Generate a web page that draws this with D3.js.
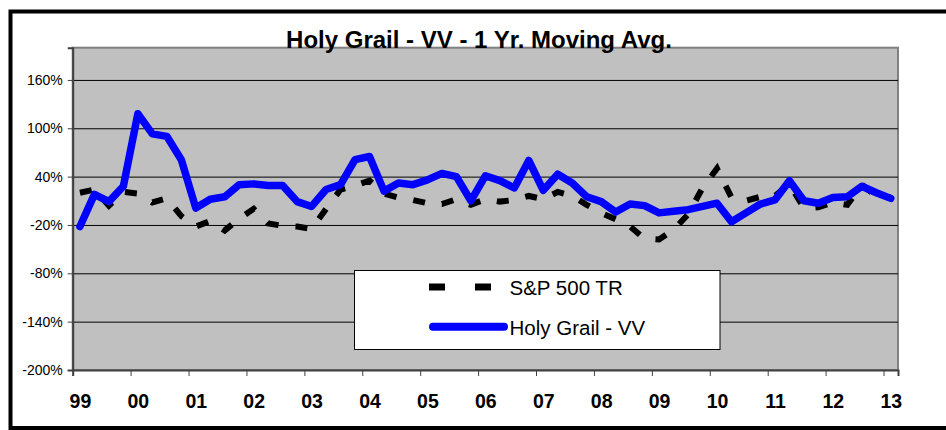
<!DOCTYPE html>
<html lang="en">
	<head>
		<meta charset="utf-8">
		<title>Holy Grail - VV - 1 Yr. Moving Avg.</title>
		<script type="text/javascript" src="https://d3js.org/d3.v7.min.js"></script>
		<style type="text/css">
            body {
                margin: 0;
                background: #fff;
            }
            svg text {
                font-family: "Liberation Sans", Arial, sans-serif;
                fill: #000;
            }
		</style>
	</head>
	<body>
		<script type="text/javascript">

            // quarterly points, 1999 Q1 .. 2013 Q1
            var quarters = ["99Q1","99Q2","99Q3","99Q4","00Q1","00Q2","00Q3","00Q4",
                "01Q1","01Q2","01Q3","01Q4","02Q1","02Q2","02Q3","02Q4",
                "03Q1","03Q2","03Q3","03Q4","04Q1","04Q2","04Q3","04Q4",
                "05Q1","05Q2","05Q3","05Q4","06Q1","06Q2","06Q3","06Q4",
                "07Q1","07Q2","07Q3","07Q4","08Q1","08Q2","08Q3","08Q4",
                "09Q1","09Q2","09Q3","09Q4","10Q1","10Q2","10Q3","10Q4",
                "11Q1","11Q2","11Q3","11Q4","12Q1","12Q2","12Q3","12Q4","13Q1"];

            var yearLabels = ["99","00","01","02","03","04","05","06","07","08","09","10","11","12","13"];

            var sp500 = [20, 24, 4, 21, 19, 8, 13, -9, -22, -15, -27, -12, 0, -18, -21, -22,
                -25, 0, 24, 29, 35, 19, 14, 11, 7, 6, 12, 5, 12, 9, 11, 16,
                12, 21, 16, 5, -5, -13, -22, -37, -38, -26, -7, 26, 50, 14,
                10, 15, 16, 31, 1, 2, 8, 5, 30, 16, 14];

            var holyGrail = [-22, 18, 9, 28, 118, 93, 90, 61, 1, 12, 15, 30, 31, 29, 29, 9,
                3, 24, 30, 61, 65, 22, 32, 30, 36, 44, 40, 10, 41, 35, 26, 60,
                23, 43, 32, 15, 9, -4, 6, 4, -5, -3, -1, 3, 7, -16, -5, 6,
                11, 35, 10, 7, 14, 15, 28, 20, 13];

            var yTicks = [-200, -140, -80, -20, 40, 100, 160];

            var seriesNames = ["S&P 500 TR", "Holy Grail - VV"];

            var W = 946, H = 430;
            var plotL = 72.7, plotR = 898, plotT = 47.7, plotB = 370;

            var svg = d3.select("body").append("svg")
                .attr("width", W)
                .attr("height", H);

            // outer frame
            svg.append("rect")
                .attr("x", 10.5).attr("y", 11.5)
                .attr("width", 950).attr("height", 416.5)
                .attr("fill", "none")
                .attr("stroke", "#000")
                .attr("stroke-width", 4);

            var xIndex = d3.scaleLinear().domain([0, quarters.length]).range([plotL, plotR]);
            var xScale = d3.scaleBand().domain(quarters).range([plotL, plotR]).padding(0);
            var yScale = d3.scaleLinear().domain([-200, 200]).range([plotB, plotT]);

            // plot area
            svg.append("rect")
                .attr("x", plotL).attr("y", plotT)
                .attr("width", plotR - plotL).attr("height", plotB - plotT)
                .attr("fill", "#c0c0c0")
                .attr("stroke", "#808080")
                .attr("stroke-width", 2);

            // gridlines
            var grid = d3.axisLeft(yScale)
                .tickValues(yTicks.filter(function(d) { return d > -200; }))
                .tickSize(-(plotR - plotL))
                .tickFormat("");
            svg.append("g")
                .attr("class", "grid")
                .attr("transform", `translate(${plotL}, 0)`)
                .call(grid)
                .call(function(g) {
                    g.select(".domain").remove();
                    g.selectAll("line").attr("stroke", "#000").attr("stroke-width", 1);
                });

            // y axis
            var yAxis = d3.axisLeft(yScale)
                .tickValues(yTicks)
                .tickSize(5)
                .tickPadding(5)
                .tickFormat(function(d) { return d + "%"; });
            svg.append("g")
                .attr("class", "yAxis")
                .attr("transform", `translate(${plotL}, 0)`)
                .call(yAxis)
                .call(function(g) {
                    g.select(".domain").attr("stroke", "#404040").attr("stroke-width", 2);
                    g.selectAll("line").attr("stroke", "#404040");
                    g.selectAll("text")
                        .style("font-size", "14px")
                        .attr("fill", "#000");
                });

            // x axis: ticks on year boundaries, labels on first quarter
            var yearStart = yearLabels.map(function(d, i) { return i * 4; });
            var xAxis = d3.axisBottom(xIndex)
                .tickValues(yearStart)
                .tickSize(6)
                .tickPadding(18)
                .tickFormat(function(d, i) { return yearLabels[i]; });
            svg.append("g")
                .attr("class", "xAxis")
                .attr("transform", `translate(0, ${plotB})`)
                .call(xAxis)
                .call(function(g) {
                    g.select(".domain").attr("stroke", "#404040").attr("stroke-width", 2);
                    g.selectAll("line").attr("stroke", "#404040");
                    g.selectAll("text")
                        .attr("dx", xScale.bandwidth() / 2)
                        .style("font-size", "19.5px")
                        .style("font-weight", "bold");
                });

            var xPos = function(d, i) { return xScale(quarters[i]) + xScale.bandwidth() / 2; };

            var line = d3.line()
                .x(xPos)
                .y(function(d) { return yScale(d); });

            svg.append("path")
                .datum(sp500)
                .attr("d", line)
                .attr("fill", "none")
                .attr("stroke", "#000")
                .attr("stroke-width", 6)
                .attr("stroke-dasharray", "12,17");

            svg.append("path")
                .datum(holyGrail)
                .attr("d", line)
                .attr("fill", "none")
                .attr("stroke", "#0000ff")
                .attr("stroke-width", 7.5)
                .attr("stroke-linejoin", "round")
                .attr("stroke-linecap", "round");

            // title
            svg.append("text")
                .attr("x", 479)
                .attr("y", 47.5)
                .attr("text-anchor", "middle")
                .style("font-size", "24px")
                .style("font-weight", "bold")
                .text("Holy Grail - VV - 1 Yr. Moving Avg.");

            // legend
            var legend = svg.append("g").attr("class", "legend");
            legend.append("rect")
                .attr("x", 354.5).attr("y", 270.5)
                .attr("width", 365.5).attr("height", 79)
                .attr("fill", "#fff")
                .attr("stroke", "#000")
                .attr("stroke-width", 1);

            var legendY = [287, 326.7];
            legend.append("line")
                .attr("x1", 429).attr("x2", 508)
                .attr("y1", legendY[0]).attr("y2", legendY[0])
                .attr("stroke", "#000")
                .attr("stroke-width", 7)
                .attr("stroke-dasharray", "16,30");
            legend.append("line")
                .attr("x1", 433).attr("x2", 504)
                .attr("y1", legendY[1]).attr("y2", legendY[1])
                .attr("stroke", "#0000ff")
                .attr("stroke-width", 8)
                .attr("stroke-linecap", "round");

            legend.selectAll("text.lbl")
                .data(seriesNames)
                .enter()
                .append("text")
                .attr("class", "lbl")
                .attr("x", 509.5)
                .attr("y", function(d, i) { return legendY[i] + 8; })
                .style("font-size", "20.5px")
                .text(function(d) { return d; });

		</script>
	</body>
</html>
